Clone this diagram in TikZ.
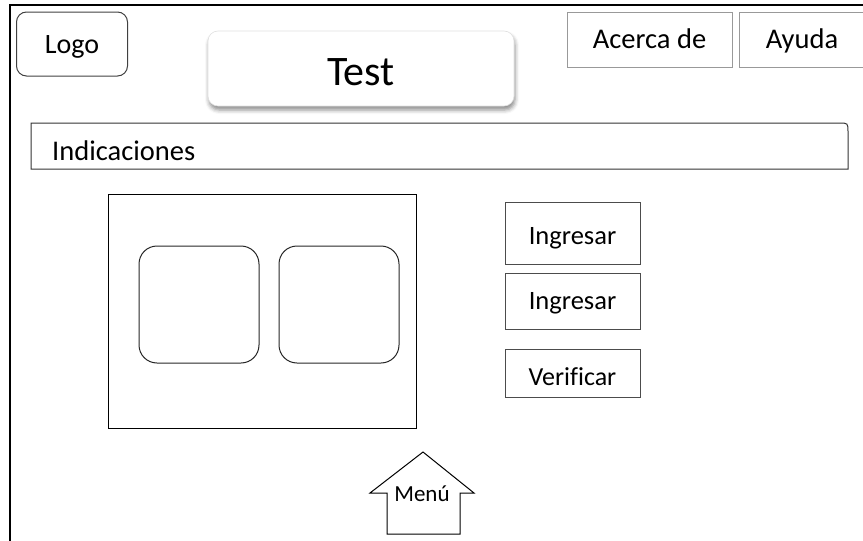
\documentclass[tikz,border=0pt]{standalone}
\usepackage{fontspec}
\setmainfont{Carlito}[Ligatures=CommonOff]
\usetikzlibrary{shadows.blur}

\newcommand\fsz[1]{\fontsize{#1}{#1}\selectfont}

\tikzset{
  box/.style={anchor=north west, inner sep=0pt, outer sep=0pt, text depth=0pt},
  logobox/.style={box, draw=black!75, line width=1pt, rounded corners=10pt,
    font=\fsz{28}, text height=18pt},
  titlebox/.style={box, draw=black!12, fill=white, line width=0.6pt, rounded corners=10pt,
    blur shadow={shadow xshift=1pt, shadow yshift=-4pt, shadow blur radius=4pt, shadow opacity=45},
    font=\fsz{42}, text height=33pt},
  tabbox/.style={box, draw=black!40, line width=1pt,
    font=\fsz{28.5}, text height=17pt},
  panelbox/.style={box, draw=black, line width=0.9pt},
  slotbox/.style={box, draw=black!85, line width=1pt, rounded corners=18pt},
  btnbox/.style={box, draw=black!70, line width=1pt, font=\fsz{26.5}},
  framing/.style={line width=2.5pt, black},
  outline/.style={draw=black!80, line width=1pt},
}

\begin{document}
\begin{tikzpicture}[x=1pt, y=-1pt]
  \useasboundingbox (0,0) rectangle (863,541);

  % page frame (top and left edges)
  \draw[framing] (10,560) -- (10,5) -- (880,5);

  % header
  \node[logobox, minimum width=111, minimum height=64] (logo) at (16.5,12) {Logo};
  \node[titlebox, minimum width=306, minimum height=75] (title) at (208,31) {Test};
  \node[tabbox, minimum width=165, minimum height=55] (about) at (567,12) {Acerca de};
  \node[tabbox, minimum width=126, minimum height=55] (help) at (739,12) {Ayuda};

  % instructions bar with one rounded corner
  \node[box, minimum width=817, minimum height=46] (indic) at (31,123) {};
  \draw[outline]
    (indic.south west) -- (indic.north west) -- ([xshift=-9pt]indic.north east)
    .. controls (indic.north east) .. ([yshift=-9pt]indic.north east)
    -- (indic.south east) -- cycle;
  \node[anchor=base west, inner sep=0pt, font=\fsz{28.5}] (indictext) at (52,160) {Indicaciones};

  % work area with two slots
  \node[panelbox, minimum width=308, minimum height=234] (panel) at (108,194) {};
  \node[slotbox, minimum width=120, minimum height=117] (slotA) at (139,246) {};
  \node[slotbox, minimum width=120, minimum height=117] (slotB) at (279,246) {};

  % action buttons
  \node[btnbox, minimum width=135, minimum height=62, text height=22pt] (ingA) at (505,202) {Ingresar};
  \node[btnbox, minimum width=135, minimum height=56, text height=16pt] (ingB) at (505,273) {Ingresar};
  \node[btnbox, minimum width=135, minimum height=48, text height=24pt, font=\fsz{26}] (check) at (505,349) {Verificar};

  % home arrow
  \draw[draw=black, line width=1pt, line join=miter]
    (387,534) -- (387,493) -- (370,493) -- (423,452) -- (474,493)
    -- (460,493) -- (460,534) -- cycle;
  \node[anchor=base, inner sep=0pt, font=\fsz{23}] (menu) at (422,501) {Menú};
\end{tikzpicture}
\end{document}
